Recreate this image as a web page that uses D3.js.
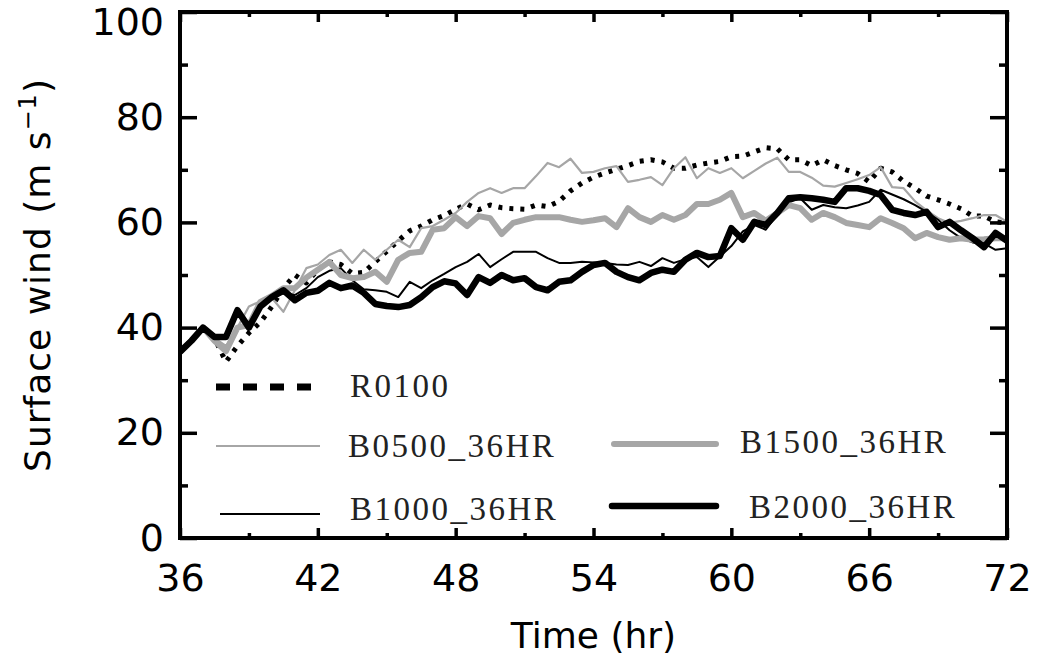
<!DOCTYPE html>
<html>
<head>
<meta charset="utf-8">
<script src="https://cdn.jsdelivr.net/npm/d3@7"></script>
<style>
  body { margin: 0; background: #fff; }
  svg { display: block; }
</style>
</head>
<body>
<div class="canvas"></div>
<script>
// time axis, every half hour from 36 to 72 hr
const times = d3.range(36, 72.01, 0.5);

const r0100 = [35.4, 37.5, 40, 38, 33.5, 36.5, 39, 41, 44, 47.5, 50, 48.5, 51, 52.5, 52, 50.3, 50.5, 52.5, 54.5, 56.5,
  58.4, 59.3, 60.5, 61.3, 62.5, 63.5, 62.4, 63.3, 62.8, 62.6, 62.5, 63.3, 63, 64, 66, 67.5, 68.6, 69.4, 70.1, 70.8,
  71.6, 71.9, 71.5, 70.3, 70.3, 70.9, 71.3, 71.6, 72.5, 72.6, 73.4, 74.2, 74, 71.9, 71.9, 70.8, 71.9, 70.8, 70, 69.3,
  67.7, 70.3, 69.6, 67.8, 66.5, 65, 64.3, 63.5, 62.6, 61.2, 61.2, 60.1, 59.9];

const b0500 = [35.4, 37.5, 40, 38, 36.5, 40, 44, 45, 45.6, 43, 47.1, 51.3, 52, 53.8, 54.8, 52.3, 54.8, 52.9, 54.8, 56.7,
  55.3, 58.9, 59.3, 60.5, 61.8, 63.9, 65.6, 66.5, 65.6, 66.5, 66.5, 68.8, 71.3, 70.5, 72.1, 69.4, 69.6, 70.3, 70.7, 67.7,
  68.1, 68.6, 67.1, 70.3, 72.4, 68.4, 70.3, 69.4, 70.3, 68.4, 69.8, 71.2, 72.3, 69.6, 69.6, 68.5, 67, 66.8, 67.5, 68.2,
  69, 70.5, 66.7, 66.5, 64, 62.3, 60.8, 59.9, 60.3, 60.8, 61.4, 61.4, 60.1];

const b1000 = [35.4, 37.5, 40, 38.2, 38.2, 42.5, 40.5, 44, 45.5, 46.5, 46.2, 47.5, 49.6, 50.8, 51.3, 49, 47.3, 47.1, 46.8, 45.8,
  48.7, 47.5, 49, 50.2, 51.5, 52.5, 54, 51.5, 53, 54.4, 54.4, 54.4, 53.2, 52.3, 52.3, 52.5, 52.4, 52.3, 52, 51.9,
  52.5, 51.7, 53.2, 52.3, 53, 53.4, 51.5, 53.5, 55.5, 58.3, 59.5, 58.6, 61.5, 63.8, 64.6, 62.4, 63.3, 62.9, 62.7, 63.2,
  63.9, 66.2, 65.3, 64.4, 63.3, 62, 60.5, 58.5, 57, 56.2, 56, 54.8, 55.1];

const b1500 = [35.4, 37.5, 40, 37.5, 35.5, 40, 40.5, 44.9, 46, 47.5, 47.5, 49.5, 51, 52.5, 50, 49.4, 49.6, 50.6, 48.7, 52.9,
  54.2, 54.4, 58.6, 58.9, 61, 59.3, 61.2, 60.8, 57.8, 59.9, 60.5, 61, 61, 61, 60.5, 60.1, 60.4, 60.8, 59.1, 62.7,
  61, 60.1, 61.4, 60.5, 61.4, 63.5, 63.5, 64.3, 65.6, 61, 61.8, 60.3, 61.8, 63.3, 62.7, 60.5, 61.8, 61, 59.9, 59.5,
  59.1, 60.8, 59.9, 58.9, 57, 58, 57.2, 56.7, 57, 56.7, 56.8, 57, 57];

const b2000 = [35.4, 37.5, 40, 38.2, 38.2, 43.3, 40, 44, 45.8, 47.1, 45.2, 46.6, 47, 48.5, 47.5, 48, 46.6, 44.5, 44.1, 43.9,
  44.3, 45.8, 47.7, 48.8, 48.4, 46.2, 49.6, 48.5, 50, 49, 49.4, 47.7, 47.1, 48.7, 49, 50.6, 51.9, 52.3, 50.6, 49.6,
  49, 50.4, 51, 50.6, 52.9, 54.2, 53.4, 53.6, 58.9, 56.7, 60.1, 59.5, 61.8, 64.6, 64.8, 64.6, 64.3, 63.9, 66.5, 66.5,
  66, 65.2, 62.4, 61.8, 61.4, 62, 59.1, 60.1, 58.5, 57, 55.3, 58, 56.5];

const seriesNames = ['R0100', 'B0500_36HR', 'B1000_36HR', 'B1500_36HR', 'B2000_36HR'];
const xMajor = [36, 42, 48, 54, 60, 66, 72];
const xMinor = [39, 45, 51, 57, 63, 69];
const yMajor = [0, 20, 40, 60, 80, 100];
const yMinor = [10, 30, 50, 70, 90];

const W = 1038, H = 666;
const m = {left: 180, right: 31, top: 12, bottom: 128};

const styles = {
  'R0100':      {color: '#000', width: 5, dash: '4,7', legendDash: '14,13'},
  'B0500_36HR': {color: '#a6a6a6', width: 2.2},
  'B1000_36HR': {color: '#000', width: 2},
  'B1500_36HR': {color: '#a6a6a6', width: 6},
  'B2000_36HR': {color: '#000', width: 6.5}
};

const seriesData = {
  'R0100': r0100, 'B0500_36HR': b0500, 'B1000_36HR': b1000,
  'B1500_36HR': b1500, 'B2000_36HR': b2000
};

const svg = d3.select('.canvas').append('svg')
  .attr('width', W).attr('height', H);

const x = d3.scaleLinear().domain([36, 72]).range([m.left, W - m.right]);
const y = d3.scaleLinear().domain([0, 100]).range([H - m.bottom, m.top]);

// clip lines to the plot box
svg.append('clipPath').attr('id', 'plotclip')
  .append('rect')
  .attr('x', x(36)).attr('y', y(100))
  .attr('width', x(72) - x(36)).attr('height', y(0) - y(100));

const line = d3.line()
  .x((d, i) => x(times[i]))
  .y(d => y(d));

const plot = svg.append('g').attr('clip-path', 'url(#plotclip)');

seriesNames.forEach(name => {
  const s = styles[name];
  plot.append('path')
    .datum(seriesData[name])
    .attr('fill', 'none')
    .attr('stroke', s.color)
    .attr('stroke-width', s.width)
    .attr('stroke-linejoin', 'round')
    .attr('stroke-dasharray', s.dash || null)
    .attr('d', line);
});

// axes, ticks pointing inward on all four sides
const axisFont = '"DejaVu Sans", sans-serif';

function styleAxis(g) {
  g.select('.domain').remove();
  g.selectAll('.tick line').attr('stroke', '#000').attr('stroke-width', 3.5);
  g.selectAll('.tick text').attr('fill', '#000')
    .style('font-family', axisFont).style('font-size', '38px');
}

svg.append('g').attr('transform', `translate(0,${y(0)})`)
  .call(d3.axisBottom(x).tickValues(xMajor).tickSize(-10).tickPadding(26))
  .call(styleAxis);
svg.append('g').attr('transform', `translate(0,${y(0)})`)
  .call(d3.axisBottom(x).tickValues(xMinor).tickSize(-5).tickFormat(''))
  .call(styleAxis);
svg.append('g').attr('transform', `translate(0,${y(100)})`)
  .call(d3.axisTop(x).tickValues(xMajor).tickSize(-10).tickFormat(''))
  .call(styleAxis);
svg.append('g').attr('transform', `translate(0,${y(100)})`)
  .call(d3.axisTop(x).tickValues(xMinor).tickSize(-5).tickFormat(''))
  .call(styleAxis);

const yAxisG = svg.append('g').attr('transform', `translate(${x(36)},0)`)
  .call(d3.axisLeft(y).tickValues(yMajor).tickSize(-17).tickPadding(16))
  .call(styleAxis);
// the 100 label sits a little lower than its tick
yAxisG.selectAll('.tick text').filter(d => d === 100).attr('dy', '0.6em');
svg.append('g').attr('transform', `translate(${x(36)},0)`)
  .call(d3.axisLeft(y).tickValues(yMinor).tickSize(-8).tickFormat(''))
  .call(styleAxis);
svg.append('g').attr('transform', `translate(${x(72)},0)`)
  .call(d3.axisRight(y).tickValues(yMajor).tickSize(-17).tickFormat(''))
  .call(styleAxis);
svg.append('g').attr('transform', `translate(${x(72)},0)`)
  .call(d3.axisRight(y).tickValues(yMinor).tickSize(-8).tickFormat(''))
  .call(styleAxis);

// frame
svg.append('rect')
  .attr('x', x(36)).attr('y', y(100))
  .attr('width', x(72) - x(36)).attr('height', y(0) - y(100))
  .attr('fill', 'none').attr('stroke', '#000').attr('stroke-width', 4);

// axis titles
svg.append('text')
  .attr('x', (x(36) + x(72)) / 2).attr('y', 648)
  .attr('text-anchor', 'middle')
  .style('font-family', axisFont).style('font-size', '36px')
  .text('Time (hr)');

const yt = svg.append('text')
  .attr('transform', `translate(50,${(y(0) + y(100)) / 2}) rotate(-90)`)
  .attr('text-anchor', 'middle')
  .style('font-family', axisFont).style('font-size', '36px')
  .style('letter-spacing', '1px');
yt.append('tspan').text('Surface wind (m s');
yt.append('tspan').attr('dy', -14).style('font-size', '24px').text('−1');
yt.append('tspan').attr('dy', 14).text(')');

// legend
const legendItems = [
  {name: 'R0100',      x1: 216, x2: 313, ly: 387, tx: 350, ty: 397},
  {name: 'B0500_36HR', x1: 216, x2: 320, ly: 446, tx: 348, ty: 457},
  {name: 'B1000_36HR', x1: 220, x2: 320, ly: 514, tx: 350, ty: 520},
  {name: 'B1500_36HR', x1: 614, x2: 716, ly: 444, tx: 740, ty: 453},
  {name: 'B2000_36HR', x1: 612, x2: 716, ly: 506, tx: 749, ty: 518}
];

const legend = svg.append('g');
legend.selectAll('line')
  .data(legendItems)
  .enter()
    .append('line')
    .attr('x1', d => d.x1).attr('x2', d => d.x2)
    .attr('y1', d => d.ly).attr('y2', d => d.ly)
    .attr('stroke', d => styles[d.name].color)
    .attr('stroke-width', d => d.name === 'R0100' ? 7 : styles[d.name].width)
    .attr('stroke-linecap', d => styles[d.name].width > 5 ? 'round' : 'butt')
    .attr('stroke-dasharray', d => styles[d.name].legendDash || null);

legend.selectAll('text')
  .data(legendItems)
  .enter()
    .append('text')
    .attr('x', d => d.tx).attr('y', d => d.ty)
    .style('font-family', '"Liberation Serif", "Times New Roman", serif')
    .style('font-size', '33px')
    .style('letter-spacing', '2.5px')
    .attr('fill', '#222')
    .text(d => d.name);
</script>
</body>
</html>
